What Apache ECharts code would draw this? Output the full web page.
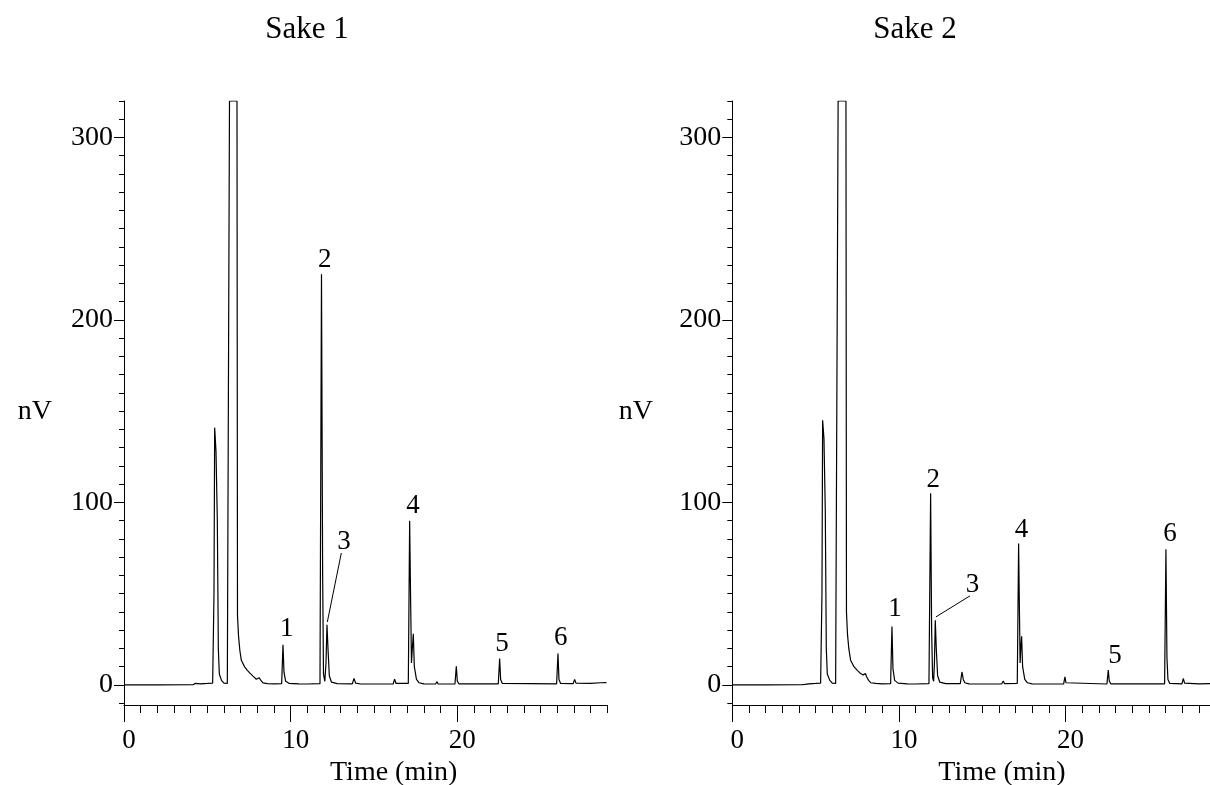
<!DOCTYPE html>
<html>
<head>
<meta charset="utf-8">
<script src="https://cdn.jsdelivr.net/npm/echarts@6/dist/echarts.min.js"></script>
<style>
html,body{margin:0;padding:0;background:#fff;}
#chart{width:1210px;height:785px;}
</style>
</head>
<body>
<div id="chart"></div>
<script>
// ---- data ----
const titles = ['Sake 1', 'Sake 2'];
const xName = 'Time (min)';
const yName = 'nV';
const xMajorTicks = [0, 10, 20];
const xMinorTicks = [0,1,2,3,4,5,6,7,8,9,10,11,12,13,14,15,16,17,18,19,20,21,22,23,24,25,26,27,28,29];
const yMajorTicks = [0, 100, 200, 300];
const yMinorTicks = [-10,0,10,20,30,40,50,60,70,80,90,100,110,120,130,140,150,160,170,180,190,200,210,220,230,240,250,260,270,280,290,300,310,320];

const sake1Trace = [
[0,0],[2,0],[4.15,0.1],[4.28,0.9],[4.38,0.3],[4.6,0.6],[5.0,0.8],[5.32,1],
[5.4,50],[5.44,141],[5.52,128],[5.6,90],[5.66,20],[5.72,6],[5.85,2.5],[6.0,1],[6.2,0.8],[6.28,1.5],
[6.33,320],[6.78,320],[6.81,38],[6.87,27],[6.95,19],[7.04,13.5],[7.24,9.9],[7.4,8],[7.54,6.6],[7.74,4.8],[7.94,3.1],[8.04,3.3],[8.12,3.9],[8.2,2.6],[8.34,1.1],[8.6,0.7],
[9.0,0.6],[9.46,0.7],[9.54,22],[9.6,7],[9.7,2],[9.9,0.9],[10.5,0.6],[11.0,0.5],[11.76,0.7],
[11.85,225],[11.92,60],[11.97,6],[12.05,2],[12.12,12],[12.18,33],[12.24,20],[12.32,5],[12.45,1.5],[12.8,0.7],
[13.7,0.6],[13.8,3.5],[13.9,1],[14.2,0.5],[16.15,0.5],[16.24,3.2],[16.32,0.8],[17.06,0.8],
[17.14,90],[17.2,45],[17.25,12],[17.3,20],[17.36,28],[17.42,10],[17.55,3],[17.7,1.2],[18.0,0.6],
[18.7,0.5],[18.77,1.8],[18.85,0.5],[19.86,0.5],[19.94,10.2],[20.0,2],[20.1,0.6],
[22.46,0.6],[22.54,14.5],[22.6,3],[22.7,0.8],[25.96,0.6],[26.04,17.2],[26.1,3],[26.2,0.8],
[26.95,0.7],[27.04,3],[27.12,1],[28.0,0.8],[28.6,1.2],[28.95,1.3]
];

const sake2Trace = [
[0,0],[2,0],[4.15,0.1],[4.26,0.9],[4.36,0.3],[4.6,0.6],[5.0,0.8],[5.3,1],
[5.38,50],[5.42,145],[5.5,135],[5.58,95],[5.64,20],[5.7,6],[5.85,2.5],[6.0,1],[6.2,0.8],[6.3,1.5],
[6.35,320],[6.82,320],[6.85,40],[6.91,28],[6.99,20],[7.1,13.5],[7.3,10],[7.5,8],[7.66,6.6],[7.85,5.5],[7.95,5],[8.0,6.2],[8.05,4.6],[8.1,5.6],[8.18,2.5],[8.3,1.2],[8.6,0.8],
[9.0,0.6],[9.5,0.7],[9.58,32],[9.64,9],[9.74,2.5],[9.95,1],[10.5,0.6],[11.0,0.5],[11.8,0.7],
[11.9,105],[11.96,30],[12.02,4],[12.08,2],[12.13,12],[12.18,35.5],[12.24,20],[12.32,5],[12.45,1.5],[12.8,0.7],
[13.68,0.7],[13.78,7.1],[13.86,3],[13.95,1.2],[14.2,0.6],[16.16,0.5],[16.26,2.2],[16.34,0.7],[17.1,0.8],
[17.18,77.5],[17.23,40],[17.27,12],[17.31,20],[17.36,26.7],[17.42,10],[17.55,3],[17.7,1.2],[18.0,0.6],
[18.72,0.5],[18.8,1.2],[18.88,0.5],[19.88,0.5],[19.96,4.4],[20.02,1.2],[20.12,0.5],
[22.48,0.5],[22.56,8.1],[22.62,2],[22.72,0.6],[25.94,0.6],[26.02,74.4],[26.08,15],[26.14,3],[26.25,0.8],
[26.98,0.6],[27.06,3.5],[27.14,1],[28.0,0.6],[29,0.7]
];

// peak labels: [time, nV, text]
const sake1Labels = [[9.76,30.5,'1'],[12.04,233,'2'],[13.2,78.5,'3'],[17.34,98,'4'],[22.68,22.5,'5'],[26.2,25.5,'6']];
const sake2Labels = [[9.76,41.5,'1'],[12.06,112.5,'2'],[14.42,55,'3'],[17.36,85,'4'],[22.96,16,'5'],[26.26,82.5,'6']];
// leader lines for label 3
const sake1Leader = [[13.04,72.3],[12.2,34.5]];
const sake2Leader = [[14.26,48.8],[12.22,37.3]];

// ---- chart ----
const FONT = "'Liberation Serif','Times New Roman',serif";
const chart = echarts.init(document.getElementById('chart'), null, {renderer:'canvas'});

const grids = [
  {left:124, top:101, width:483.3, height:604, containLabel:false, outerBoundsMode:'none'},
  {left:732.3, top:101, width:483.3, height:604, containLabel:false, outerBoundsMode:'none'}
];

function xAxes(gi){
  return [
    {gridIndex:gi, type:'value', position:'bottom', min:0, max:29,
     axisLine:{show:true, onZero:false, lineStyle:{color:'#000', width:1}},
     axisTick:{show:true, customValues:xMajorTicks, length:17, lineStyle:{color:'#000'}},
     axisLabel:{show:true, customValues:xMajorTicks, margin:22, color:'#000', fontSize:27, fontFamily:FONT, padding:[0,0,0,10]},
     splitLine:{show:false},
     name:xName, nameLocation:'middle', nameGap:51,
     nameTextStyle:{color:'#000', fontSize:28, fontFamily:FONT, padding:[0,0,0,56]}},
    {gridIndex:gi, type:'value', position:'bottom', offset:0, min:0, max:29,
     axisLine:{show:false, onZero:false},
     axisTick:{show:true, customValues:xMinorTicks, length:8, lineStyle:{color:'#000'}},
     axisLabel:{show:false}, splitLine:{show:false}}
  ];
}
function yAxes(gi){
  return [
    {gridIndex:gi, type:'value', position:'left', min:-11, max:320,
     axisLine:{show:true, onZero:false, lineStyle:{color:'#000', width:1}},
     axisTick:{show:true, customValues:yMajorTicks, length:10, lineStyle:{color:'#000'}},
     axisLabel:{show:true, customValues:yMajorTicks, margin:11, color:'#000', fontSize:28, fontFamily:FONT},
     splitLine:{show:false}},
    {gridIndex:gi, type:'value', position:'left', offset:0, min:-11, max:320,
     axisLine:{show:false, onZero:false},
     axisTick:{show:true, customValues:yMinorTicks, length:5, lineStyle:{color:'#000'}},
     axisLabel:{show:false}, splitLine:{show:false}}
  ];
}

function traceSeries(data, xi, yi){
  return {type:'line', xAxisIndex:xi, yAxisIndex:yi, data:data, showSymbol:false, symbol:'none',
    lineStyle:{color:'#000', width:1.2}, clip:true, silent:true, z:3};
}
function labelSeries(labels, xi, yi){
  return {type:'scatter', xAxisIndex:xi, yAxisIndex:yi, symbolSize:1, silent:true,
    itemStyle:{opacity:0, color:'#000'},
    data:labels.map(l => ({value:[l[0], l[1]], name:l[2]})),
    label:{show:true, position:'inside', formatter:p => p.name, color:'#000', opacity:1, fontSize:27, fontFamily:FONT}};
}
function leaderSeries(data, xi, yi){
  return {type:'line', xAxisIndex:xi, yAxisIndex:yi, data:data, showSymbol:false, symbol:'none',
    lineStyle:{color:'#000', width:1}, silent:true};
}
function textEl(text, x, y, size, align){
  return {type:'text', x:x, y:y, style:{text:text, font:size + 'px ' + FONT, fill:'#000',
    align:align, verticalAlign:'middle', textAlign:align, textVerticalAlign:'middle'}};
}

const option = {
  animation:false,
  backgroundColor:'#fff',
  grid:grids,
  xAxis:[...xAxes(0), ...xAxes(1)],
  yAxis:[...yAxes(0), ...yAxes(1)],
  graphic:[
    textEl(titles[0], 307, 30, 31, 'center'),
    textEl(titles[1], 915, 30, 31, 'center'),
    textEl(yName, 52, 412, 28, 'right'),
    textEl(yName, 653, 412, 28, 'right')
  ],
  series:[
    traceSeries(sake1Trace, 0, 0),
    labelSeries(sake1Labels, 0, 0),
    leaderSeries(sake1Leader, 0, 0),
    traceSeries(sake2Trace, 2, 2),
    labelSeries(sake2Labels, 2, 2),
    leaderSeries(sake2Leader, 2, 2)
  ]
};
chart.setOption(option);
</script>
</body>
</html>
